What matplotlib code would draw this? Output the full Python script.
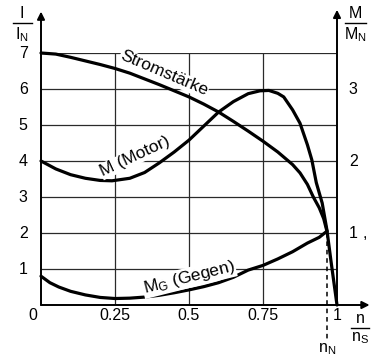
import matplotlib
matplotlib.use("Agg")
import matplotlib.pyplot as plt
from matplotlib.lines import Line2D

plt.rcParams['font.family'] = ['Liberation Sans', 'DejaVu Sans']
plt.rcParams['mathtext.fontset'] = 'custom'
plt.rcParams['mathtext.rm'] = 'Liberation Sans'
plt.rcParams['mathtext.it'] = 'Liberation Sans'

# ---- data ----
x_strom = [0, 0.05, 0.1, 0.15, 0.2, 0.25, 0.3, 0.35, 0.4, 0.45, 0.5, 0.55, 0.6,
           0.65, 0.7, 0.75, 0.8, 0.85, 0.875, 0.9, 0.92, 0.94, 0.955, 0.966]
y_strom = [7.0, 6.97, 6.88, 6.78, 6.68, 6.57, 6.44, 6.28, 6.12, 5.95, 5.78, 5.58, 5.36,
           5.10, 4.83, 4.55, 4.25, 3.9, 3.67, 3.35, 3.0, 2.7, 2.4, 2.05]

x_motor = [0, 0.05, 0.1, 0.15, 0.2, 0.24, 0.3, 0.35, 0.4, 0.45, 0.5, 0.55, 0.6, 0.65,
           0.7, 0.74, 0.77, 0.8, 0.82, 0.85, 0.875, 0.9, 0.915, 0.93, 0.95, 0.966, 0.98, 1.0]
y_motor = [4.0, 3.78, 3.62, 3.52, 3.46, 3.45, 3.52, 3.68, 3.95, 4.25, 4.58, 4.97, 5.36, 5.65,
           5.87, 5.95, 5.96, 5.88, 5.78, 5.42, 5.05, 4.45, 4.03, 3.4, 2.83, 2.08, 1.2, 0.0]

x_gegen = [0, 0.03, 0.06, 0.1, 0.15, 0.2, 0.25, 0.3, 0.35, 0.4, 0.45, 0.5, 0.55, 0.6,
           0.65, 0.7, 0.75, 0.8, 0.85, 0.9, 0.94, 0.966]
y_gegen = [0.80, 0.62, 0.5, 0.38, 0.28, 0.21, 0.18, 0.19, 0.22, 0.27, 0.34, 0.42, 0.51, 0.62,
           0.77, 0.97, 1.1, 1.28, 1.48, 1.72, 1.88, 2.05]

n_N = 0.966
left_ticks = [1, 2, 3, 4, 5, 6, 7]
right_ticks = [1, 2, 3]
x_ticks = [0.25, 0.5, 0.75, 1]
x_tick_labels = ['0.25', '0.5', '0.75', '1']

W, H = 373, 358
fig = plt.figure(figsize=(W / 100, H / 100), dpi=100)
ax = fig.add_axes([41 / W, (H - 305) / H, 296 / W, 252 / H])
ax.set_xlim(0, 1)
ax.set_ylim(0, 7)
ax.axis('off')

gc = '#2a2a2a'
ax.hlines(left_ticks, 0, 1, color=gc, lw=0.9)
ax.vlines([0.25, 0.5, 0.75], 0, 7, color=gc, lw=0.9)

arrow_kw = dict(arrowstyle='-|>', color='black', lw=1.4, mutation_scale=11,
                shrinkA=0, shrinkB=0)
ax.annotate('', xy=(0, 8.15), xytext=(0, 0), arrowprops=arrow_kw, annotation_clip=False)
ax.annotate('', xy=(1, 8.2), xytext=(1, 0), arrowprops=arrow_kw, annotation_clip=False)
ax.annotate('', xy=(1.11, 0), xytext=(0, 0), arrowprops=arrow_kw, annotation_clip=False)

ax.plot([n_N, n_N], [2.0, -0.95], color='black', lw=1.1, ls=(0, (3, 2.5)), clip_on=False)

lw = 2.3
ax.plot(x_strom, y_strom, color='black', lw=lw, solid_capstyle='round', clip_on=False)
ax.plot(x_motor, y_motor, color='black', lw=lw, solid_capstyle='round', clip_on=False)
ax.plot(x_gegen, y_gegen, color='black', lw=lw, solid_capstyle='round', clip_on=False)

fs = 11.5
lfs = 12.5
bb = dict(facecolor='white', edgecolor='none', pad=0.5)
ax.text(0.415, 6.43, 'Stromstärke', rotation=-23, ha='center', va='center', fontsize=lfs,
        bbox=bb, rotation_mode='anchor')
ax.text(0.318, 4.12, 'M (Motor)', rotation=25, ha='center', va='center', fontsize=lfs,
        bbox=bb, rotation_mode='anchor')
ax.text(0.5, 0.76, r'M$_{\mathrm{G}}$ (Gegen)', rotation=14, ha='center', va='center',
        fontsize=lfs, bbox=bb, rotation_mode='anchor')

# tick labels
for v in left_ticks:
    ax.text(-0.045, v, str(v), ha='right', va='center', fontsize=fs)
for v in right_ticks:
    ax.text(1.04, 2 * v, str(v), ha='left', va='center', fontsize=fs)
ax.text(1.085, 2.0, ',', ha='left', va='center', fontsize=fs)
ax.text(-0.027, -0.28, '0', ha='center', va='center', fontsize=fs)
for v, lab in zip(x_ticks, x_tick_labels):
    ax.text(v, -0.3, lab, ha='center', va='center', fontsize=fs)

# axis fraction labels (figure pixel coords)
def fx(px):
    return px / W

def fy(py):
    return 1 - py / H

def frac(cx, top, bottom, y_line, x0, x1):
    fig.text(fx(cx), fy(y_line - 2), top, ha='center', va='bottom', fontsize=fs)
    fig.text(fx(cx), fy(y_line + 2), bottom, ha='center', va='top', fontsize=fs)
    fig.add_artist(Line2D([fx(x0), fx(x1)], [fy(y_line), fy(y_line)], color='black', lw=1.0))

frac(22, 'I', r'I$_{\mathrm{N}}$', 23, 13, 32)
frac(355, 'M', r'M$_{\mathrm{N}}$', 23, 345, 366)
frac(360, 'n', r'n$_{\mathrm{S}}$', 328, 351, 369)
fig.text(fx(327), fy(349), r'n$_{\mathrm{N}}$', ha='center', va='center', fontsize=fs)

fig.savefig('out.png', dpi=100, facecolor='white')
